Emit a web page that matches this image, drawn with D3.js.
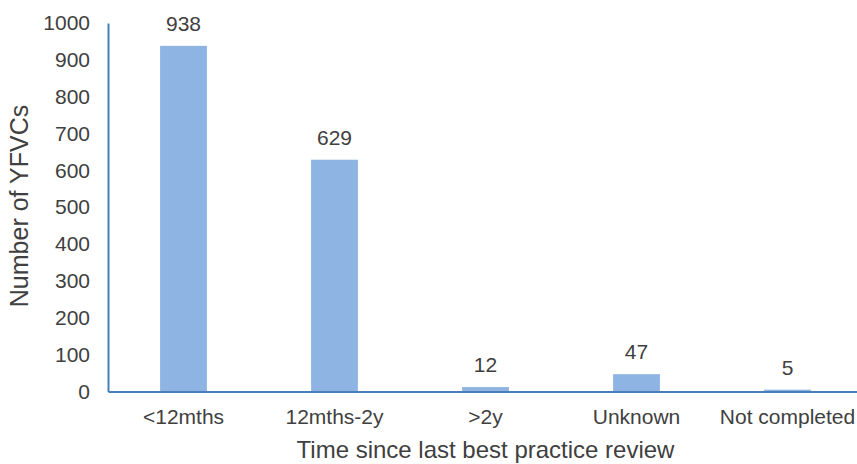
<!DOCTYPE html>
<html>
<head>
<meta charset="utf-8">
<script src="https://cdn.jsdelivr.net/npm/d3@7"></script>
<style>
  html, body { margin: 0; padding: 0; background: #fff; }
  svg { display: block; font-family: "Liberation Sans", Arial, sans-serif; }
</style>
</head>
<body>
<svg id="chart" width="857" height="464"></svg>
<script>
// Review timing categories and counts
const categories = ["<12mths", "12mths-2y", ">2y", "Unknown", "Not completed"];
const counts = [938, 629, 12, 47, 5];
const yTicks = [0, 100, 200, 300, 400, 500, 600, 700, 800, 900, 1000];

const svg = d3.select("#chart");
const plotLeft = 108, plotTop = 23, plotBottom = 391.5, plotRight = 863;

const x = d3.scaleBand().domain(categories).range([plotLeft, plotRight]).paddingInner(0.69).paddingOuter(0.345);
const y = d3.scaleLinear().domain([0, 1000]).range([plotBottom, plotTop]);

const textColor = "#404040";
const axisColor = "#4a7ebb";
const fontFamily = "Liberation Sans, Arial, sans-serif";

// Bars
svg.append("g").selectAll("rect")
  .data(categories)
  .join("rect")
  .attr("x", (d) => x(d))
  .attr("width", x.bandwidth())
  .attr("y", (d, i) => y(counts[i]))
  .attr("height", (d, i) => y(0) - y(counts[i]))
  .attr("fill", "#8eb4e3");

// Value labels
svg.append("g").selectAll("text")
  .data(categories)
  .join("text")
  .attr("x", (d) => x(d) + x.bandwidth() / 2)
  .attr("y", (d, i) => y(counts[i]) - 15)
  .attr("text-anchor", "middle")
  .attr("font-size", 21)
  .attr("fill", textColor)
  .text((d, i) => counts[i]);

// Y axis
const yAxis = svg.append("g")
  .attr("transform", `translate(${plotLeft},0)`)
  .call(d3.axisLeft(y).tickValues(yTicks).tickFormat(d3.format("d")).tickSize(0).tickPadding(18));
yAxis.select(".domain").attr("stroke", axisColor).attr("stroke-width", 2);
yAxis.selectAll("text").attr("font-size", 21).attr("fill", textColor).attr("font-family", fontFamily);

// X axis
const xAxis = svg.append("g")
  .attr("transform", `translate(0,${plotBottom})`)
  .call(d3.axisBottom(x).tickSize(0).tickPadding(18));
xAxis.select(".domain").attr("stroke", axisColor).attr("stroke-width", 2);
xAxis.selectAll("text").attr("font-size", 21).attr("fill", textColor).attr("font-family", fontFamily);

// Axis titles
svg.append("text")
  .attr("x", 485.5)
  .attr("y", 458)
  .attr("text-anchor", "middle")
  .attr("font-size", 24)
  .attr("fill", textColor)
  .text("Time since last best practice review");

svg.append("text")
  .attr("transform", `translate(28,206) rotate(-90)`)
  .attr("text-anchor", "middle")
  .attr("font-size", 25)
  .attr("fill", textColor)
  .text("Number of YFVCs");
</script>
</body>
</html>
